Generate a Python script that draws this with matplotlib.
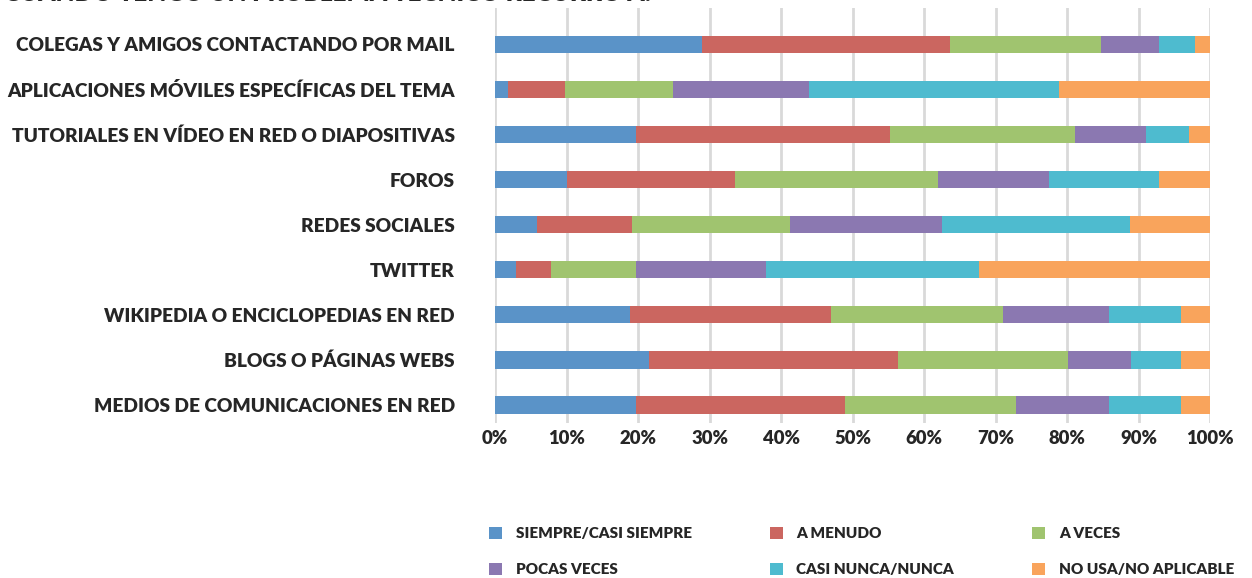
import matplotlib
matplotlib.use("Agg")
import matplotlib.pyplot as plt
import numpy as np

plt.rcParams['font.family'] = ['Lato', 'DejaVu Sans']

# fuentes consultadas (de arriba a abajo)
categories = [
    "COLEGAS Y AMIGOS CONTACTANDO POR MAIL",
    "APLICACIONES MÓVILES ESPECÍFICAS DEL TEMA",
    "TUTORIALES EN VÍDEO EN RED O DIAPOSITIVAS",
    "FOROS",
    "REDES SOCIALES",
    "TWITTER",
    "WIKIPEDIA O ENCICLOPEDIAS EN RED",
    "BLOGS O PÁGINAS WEBS",
    "MEDIOS DE COMUNICACIONES EN RED",
]

series_names = ["SIEMPRE/CASI SIEMPRE", "A MENUDO", "A VECES",
                "POCAS VECES", "CASI NUNCA/NUNCA", "NO USA/NO APLICABLE"]

siempre = [29.0, 1.8, 19.7, 10.0, 5.8, 2.9, 18.9, 21.6, 19.7]
a_menudo = [34.6, 8.0, 35.6, 23.5, 13.3, 4.9, 28.1, 34.7, 29.3]
a_veces = [21.2, 15.1, 25.8, 28.5, 22.2, 11.9, 24.0, 23.9, 23.9]
pocas_veces = [8.1, 19.0, 9.9, 15.5, 21.2, 18.2, 14.9, 8.8, 13.0]
casi_nunca = [5.0, 35.0, 6.1, 15.4, 26.3, 29.8, 10.0, 6.9, 10.0]
no_usa = [2.1, 21.1, 2.9, 7.1, 11.2, 32.3, 4.1, 4.1, 4.1]

colors = ["#5A93C8", "#CB6660", "#A0C46F", "#8B78B1", "#4EBBCF", "#F9A45C"]

data = [siempre, a_menudo, a_veces, pocas_veces, casi_nunca, no_usa]
TXT = '#262626'

fig = plt.figure(figsize=(12.52, 5.78), dpi=100)
ax = fig.add_axes([0.3954, 0.268, 0.5711, 0.718])

y = np.arange(len(categories))
left = np.zeros(len(categories))
for name, vals, col in zip(series_names, data, colors):
    vals = np.array(vals)
    ax.barh(y, vals, left=left, height=0.38, color=col, label=name, zorder=3)
    left += vals

ax.set_ylim(8.4, -0.8)
ax.set_xlim(0, 100)
ax.set_xticks(np.arange(0, 101, 10))
ax.set_xticklabels([f"{v}%" for v in range(0, 101, 10)])
ax.set_yticks(y)
ax.set_yticklabels(categories)
ax.grid(axis='x', color='#d9d9d9', linewidth=2.0, zorder=0)
for s in ax.spines.values():
    s.set_visible(False)
ax.tick_params(axis='both', length=0)
ax.tick_params(axis='y', pad=29)
ax.tick_params(axis='x', pad=5)
for lab in ax.get_yticklabels():
    lab.set_fontsize(13.8)
    lab.set_fontweight('heavy')
    lab.set_color(TXT)
for lab in ax.get_xticklabels():
    lab.set_fontsize(13.3)
    lab.set_fontweight('heavy')
    lab.set_color(TXT)

# titulo cortado en el borde superior, como en el original
fig.text(0.003, 0.9985, "CUANDO TENGO UN PROBLEMA TÉCNICO RECURRO A:",
         fontsize=17.5, fontweight='heavy', color=TXT, va='baseline', ha='left')

handles, labels = ax.get_legend_handles_labels()
order = [0, 3, 1, 4, 2, 5]  # relleno por filas
leg = fig.legend([handles[i] for i in order], [labels[i] for i in order],
                 ncol=3, loc='upper left', bbox_to_anchor=(0.3906, 0.089),
                 frameon=False, borderpad=0, borderaxespad=0,
                 handlelength=0.85, handleheight=0.85, handletextpad=0.9,
                 columnspacing=5.1, labelspacing=1.48,
                 prop={'size': 11, 'weight': 'heavy'})
for t in leg.get_texts():
    t.set_color(TXT)

fig.savefig("out.png", dpi=100)
